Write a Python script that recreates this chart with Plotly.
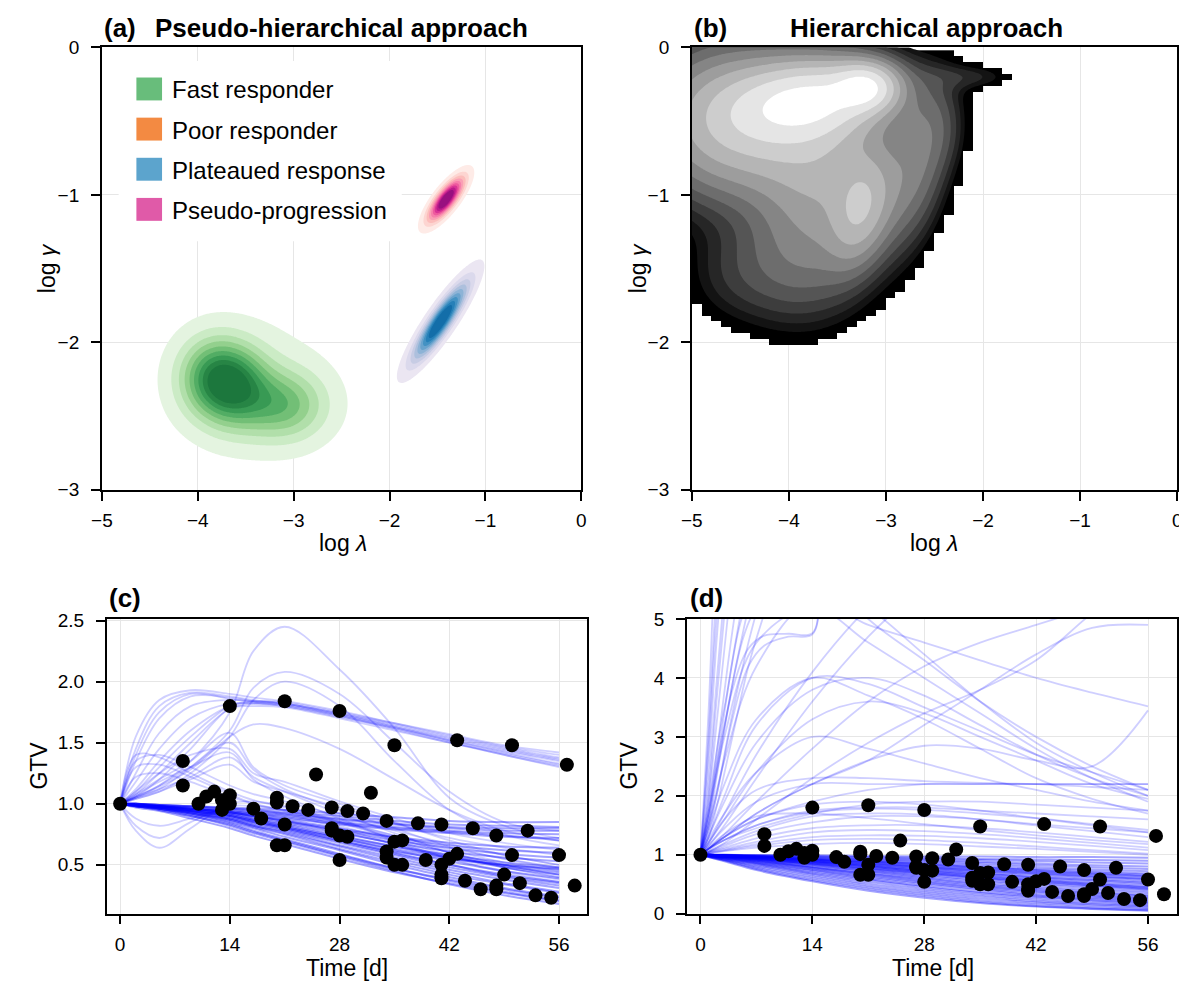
import numpy as np
import plotly.graph_objects as go

W, H = 1187, 995
OFF = 8  # default page margin of the html body

# ------------------------------------------------------------------ data
GROUP_NAMES = ["Fast responder", "Poor responder", "Plateaued response", "Pseudo-progression"]
GROUP_PATCH_COLORS = ["#68bd7b", "#f38a42", "#5ca4cd", "#e05aa8"]
# kernel = (log λ centre, log γ centre, sd λ, sd γ, correlation, weight)
FAST_KERNELS = [(-3.85, -2.24, 0.24, 0.18, 0.0, 0.80),
                (-3.60, -2.30, 0.24, 0.18, 0.0, 0.80),
                (-3.10, -2.43, 0.30, 0.16, 0.0, 0.65),
                (-3.45, -2.30, 0.50, 0.28, 0.0, 0.20)]
PLATEAU_KERNELS = [(-1.47, -1.86, 0.18, 0.165, 0.89, 1.0),
                   (-1.45, -1.84, 0.25, 0.23, 0.90, 0.07)]
PSEUDO_KERNELS = [(-1.41, -1.03, 0.12, 0.095, 0.78, 1.0)]
FAST_BANDS = ["#e4f4e0", "#cbebc5", "#b1dfaa", "#93d08d", "#72bf76", "#52ad64", "#389a54", "#278545", "#1c773d"]
PLATEAU_BANDS = ["#ebe6f2", "#dbd9ec", "#c7cce4", "#adc0dd", "#8db3d6", "#69a3cd", "#4392c3", "#2680b8", "#136ea9"]
PSEUDO_BANDS = ["#feebe7", "#fdd5d1", "#fcbdbb", "#fa9fb5", "#f67fab", "#ee5a9e", "#d93495", "#bb1b8a", "#98107f"]

HIER_KERNELS = [(-3.72, -0.35, 0.50, 0.17, 0.2, 0.80),
                (-3.20, -0.27, 0.20, 0.10, 0.0, 0.70),
                (-4.20, -0.50, 0.60, 0.30, 0.0, 0.45),
                (-4.80, -0.50, 0.50, 0.35, 0.0, 0.25),
                (-3.60, -0.90, 0.45, 0.35, 0.0, 0.30),
                (-3.25, -1.10, 0.20, 0.24, 0.3, 0.36),
                (-3.90, -1.45, 0.45, 0.30, 0.0, 0.15),
                (-4.60, -1.55, 0.35, 0.22, 0.0, 0.05),
                (-2.70, -0.80, 0.25, 0.35, 0.4, 0.20),
                (-2.45, -0.55, 0.18, 0.18, 0.0, 0.05),
                (-2.10, -0.20, 0.30, 0.06, 0.0, 0.06)]
HIER_BANDS = ["#131313", "#262626", "#3d3d3d", "#555555", "#6d6d6d", "#858585",
              "#9d9d9d", "#b5b5b5", "#cdcdcd", "#e5e5e5", "#ffffff"]

OBS_DAY = [0, 8, 8, 10, 11, 12, 13, 13, 14, 14, 14, 17, 18, 20, 20, 20, 21, 21, 21, 22, 24, 25,
           27, 27, 27, 28, 28, 28, 29, 29, 31, 32, 34, 34, 34, 35, 35, 35, 36, 36, 38, 39,
           41, 41, 41, 41, 42, 43, 43, 44, 45, 46, 48, 48, 48, 49, 50, 50, 51, 52, 53, 55, 56, 57, 58]
OBS_GTV = [1.00, 1.35, 1.15, 1.00, 1.06, 1.10, 0.95, 1.03, 1.80, 1.07, 1.00, 0.96, 0.88, 1.05, 1.01, 0.66,
           0.83, 0.66, 1.84, 0.98, 0.95, 1.24, 0.97, 0.80, 0.78, 1.76, 0.74, 0.54, 0.94, 0.73, 0.92, 1.09,
           0.86, 0.61, 0.56, 1.48, 0.69, 0.50, 0.70, 0.50, 0.84, 0.54, 0.83, 0.50, 0.42, 0.39, 0.55, 1.52,
           0.59, 0.37, 0.80, 0.30, 0.74, 0.33, 0.30, 0.42, 1.48, 0.58, 0.35, 0.78, 0.25, 0.23, 0.58, 1.32, 0.33]

C_DAYS = [0, 2, 5, 9, 14, 17, 21, 28, 35, 42, 49, 56]
C_UPPER = [[1, 1.55, 1.85, 1.93, 1.90, 1.87, 1.84, 1.76, 1.66, 1.56, 1.47, 1.40],
           [1, 1.45, 1.80, 1.91, 1.88, 1.85, 1.82, 1.74, 1.64, 1.54, 1.45, 1.37],
           [1, 1.35, 1.70, 1.88, 1.87, 1.84, 1.81, 1.73, 1.63, 1.53, 1.44, 1.36],
           [1, 1.25, 1.58, 1.80, 1.85, 1.84, 1.82, 1.74, 1.65, 1.55, 1.46, 1.38],
           [1, 1.12, 1.35, 1.60, 1.80, 1.83, 1.82, 1.73, 1.63, 1.52, 1.42, 1.33],
           [1, 1.08, 1.25, 1.50, 1.78, 1.82, 1.81, 1.72, 1.62, 1.51, 1.40, 1.31],
           [1, 1.10, 1.30, 1.55, 1.80, 1.84, 1.83, 1.75, 1.66, 1.57, 1.48, 1.42],
           [1, 1.18, 1.45, 1.70, 1.82, 1.82, 1.80, 1.71, 1.62, 1.52, 1.43, 1.35],
           [1, 1.06, 1.20, 1.45, 1.78, 1.80, 1.79, 1.70, 1.60, 1.50, 1.41, 1.32],
           [1, 1.40, 1.75, 1.90, 1.86, 1.83, 1.80, 1.72, 1.61, 1.50, 1.40, 1.30]]
C_PEAKED = [[1, 1.05, 1.15, 1.35, 1.75, 2.25, 2.45, 2.10, 1.62, 1.05, 0.82, 0.72],
            [1, 1.05, 1.12, 1.30, 1.60, 1.95, 2.08, 1.90, 1.50, 1.10, 0.85, 0.78],
            [1, 1.04, 1.10, 1.25, 1.55, 1.85, 2.00, 1.80, 1.35, 0.95, 0.75, 0.66],
            [1, 1.06, 1.14, 1.28, 1.55, 1.65, 1.62, 1.45, 1.20, 0.95, 0.78, 0.70]]
C_SPIKE = [[1, 1.08, 1.20, 1.35, 1.58, 1.30, 1.15, 1.00, 0.85, 0.70, 0.58, 0.50],
           [1, 1.06, 1.15, 1.30, 1.50, 1.28, 1.12, 0.95, 0.80, 0.65, 0.55, 0.47],
           [1, 1.10, 1.25, 1.40, 1.45, 1.25, 1.18, 1.02, 0.88, 0.76, 0.68, 0.62],
           [1, 1.05, 1.12, 1.22, 1.38, 1.22, 1.10, 0.92, 0.76, 0.60, 0.48, 0.40],
           [1, 1.07, 1.18, 1.30, 1.42, 1.20, 1.06, 0.88, 0.70, 0.55, 0.44, 0.36],
           [1, 1.04, 1.10, 1.20, 1.32, 1.18, 1.10, 0.97, 0.84, 0.72, 0.64, 0.58]]
C_BUMP = [[1, 1.40, 1.38, 1.25, 1.10, 1.03, 0.97, 0.85, 0.72, 0.60, 0.50, 0.42],
          [1, 1.35, 1.40, 1.30, 1.15, 1.08, 1.02, 0.90, 0.78, 0.67, 0.58, 0.50],
          [1, 1.30, 1.32, 1.22, 1.08, 1.00, 0.94, 0.82, 0.70, 0.58, 0.48, 0.40],
          [1, 1.22, 1.25, 1.18, 1.06, 1.00, 0.95, 0.85, 0.74, 0.64, 0.55, 0.48]]
C_DIP = [[1, 0.78, 0.64, 0.80, 1.00, 1.02, 0.98, 0.86, 0.74, 0.62, 0.52, 0.45],
         [1, 0.82, 0.72, 0.85, 0.98, 0.98, 0.95, 0.84, 0.72, 0.60, 0.50, 0.42],
         [1, 0.88, 0.82, 0.88, 0.96, 0.95, 0.92, 0.80, 0.67, 0.55, 0.45, 0.38]]
C_MAIN = [[1, 1.00, 0.99, 0.98, 0.97, 0.96, 0.95, 0.92, 0.89, 0.86, 0.85, 0.85],
          [1, 1.00, 0.99, 0.98, 0.96, 0.95, 0.93, 0.90, 0.86, 0.83, 0.82, 0.81],
          [1, 1.00, 0.99, 0.97, 0.95, 0.93, 0.91, 0.87, 0.83, 0.80, 0.78, 0.78],
          [1, 1.00, 0.98, 0.97, 0.94, 0.92, 0.90, 0.85, 0.81, 0.78, 0.76, 0.75],
          [1, 0.99, 0.98, 0.96, 0.93, 0.91, 0.88, 0.83, 0.79, 0.76, 0.73, 0.72],
          [1, 1.00, 0.99, 0.98, 0.96, 0.94, 0.92, 0.88, 0.84, 0.81, 0.80, 0.80],
          [1, 0.99, 0.98, 0.96, 0.94, 0.92, 0.89, 0.84, 0.80, 0.77, 0.74, 0.70],
          [1, 0.99, 0.98, 0.96, 0.93, 0.90, 0.86, 0.79, 0.72, 0.66, 0.62, 0.60],
          [1, 0.99, 0.98, 0.95, 0.92, 0.88, 0.84, 0.76, 0.68, 0.61, 0.56, 0.53],
          [1, 0.99, 0.97, 0.95, 0.91, 0.87, 0.82, 0.73, 0.65, 0.58, 0.52, 0.48],
          [1, 0.99, 0.97, 0.94, 0.90, 0.86, 0.81, 0.72, 0.63, 0.56, 0.50, 0.46],
          [1, 0.99, 0.98, 0.95, 0.92, 0.89, 0.85, 0.78, 0.70, 0.64, 0.59, 0.56],
          [1, 1.00, 0.98, 0.96, 0.93, 0.90, 0.87, 0.80, 0.73, 0.68, 0.65, 0.64],
          [1, 0.99, 0.97, 0.94, 0.90, 0.85, 0.80, 0.70, 0.61, 0.55, 0.50, 0.47],
          [1, 0.99, 0.97, 0.93, 0.87, 0.82, 0.76, 0.65, 0.54, 0.44, 0.35, 0.28],
          [1, 0.99, 0.96, 0.92, 0.85, 0.80, 0.73, 0.62, 0.50, 0.40, 0.31, 0.24],
          [1, 0.98, 0.96, 0.91, 0.84, 0.78, 0.71, 0.59, 0.47, 0.37, 0.28, 0.21],
          [1, 0.98, 0.95, 0.90, 0.82, 0.76, 0.69, 0.57, 0.45, 0.34, 0.25, 0.18],
          [1, 0.99, 0.97, 0.93, 0.88, 0.83, 0.78, 0.68, 0.58, 0.48, 0.40, 0.33],
          [1, 0.99, 0.97, 0.94, 0.89, 0.85, 0.80, 0.70, 0.60, 0.50, 0.42, 0.36],
          [1, 0.98, 0.96, 0.92, 0.86, 0.81, 0.75, 0.63, 0.52, 0.42, 0.34, 0.27],
          [1, 0.98, 0.95, 0.90, 0.83, 0.77, 0.70, 0.58, 0.47, 0.38, 0.30, 0.23],
          [1, 0.97, 0.94, 0.88, 0.80, 0.74, 0.67, 0.55, 0.44, 0.35, 0.27, 0.20],
          [1, 0.99, 0.97, 0.94, 0.90, 0.86, 0.81, 0.72, 0.62, 0.53, 0.45, 0.39],
          [1, 0.98, 0.96, 0.92, 0.87, 0.82, 0.77, 0.66, 0.56, 0.46, 0.38, 0.31],
          [1, 0.99, 0.98, 0.95, 0.91, 0.87, 0.83, 0.74, 0.65, 0.56, 0.48, 0.42],
          [1, 0.98, 0.96, 0.93, 0.88, 0.84, 0.79, 0.69, 0.59, 0.50, 0.41, 0.35],
          [1, 0.99, 0.98, 0.96, 0.93, 0.90, 0.86, 0.77, 0.67, 0.57, 0.49, 0.44]]

D_DAYS = [0, 1, 3, 7, 14, 21, 28, 35, 42, 49, 56]
D_MAIN = [[1, 1.00, 1.00, 0.99, 0.99, 0.98, 0.97, 0.97, 0.96, 0.96, 0.95],
          [1, 1.00, 1.00, 0.99, 0.98, 0.96, 0.95, 0.93, 0.92, 0.91, 0.90],
          [1, 1.00, 0.99, 0.99, 0.97, 0.95, 0.93, 0.91, 0.89, 0.87, 0.85],
          [1, 1.00, 0.99, 0.98, 0.96, 0.93, 0.91, 0.88, 0.85, 0.82, 0.80],
          [1, 1.00, 0.99, 0.98, 0.95, 0.92, 0.89, 0.86, 0.82, 0.79, 0.76],
          [1, 1.00, 0.99, 0.97, 0.94, 0.91, 0.87, 0.83, 0.79, 0.75, 0.72],
          [1, 1.00, 0.99, 0.97, 0.93, 0.89, 0.85, 0.80, 0.76, 0.72, 0.68],
          [1, 1.00, 0.99, 0.97, 0.92, 0.88, 0.83, 0.78, 0.73, 0.68, 0.64],
          [1, 1.00, 0.99, 0.96, 0.91, 0.86, 0.80, 0.75, 0.70, 0.65, 0.60],
          [1, 1.00, 0.98, 0.96, 0.90, 0.84, 0.78, 0.72, 0.67, 0.62, 0.57],
          [1, 1.00, 0.98, 0.95, 0.89, 0.83, 0.77, 0.70, 0.64, 0.59, 0.54],
          [1, 1.00, 0.98, 0.95, 0.88, 0.81, 0.74, 0.67, 0.61, 0.55, 0.50],
          [1, 0.99, 0.98, 0.94, 0.87, 0.80, 0.72, 0.65, 0.58, 0.52, 0.47],
          [1, 0.99, 0.98, 0.94, 0.86, 0.78, 0.70, 0.62, 0.55, 0.49, 0.44],
          [1, 0.99, 0.97, 0.93, 0.85, 0.76, 0.68, 0.60, 0.52, 0.46, 0.41],
          [1, 0.99, 0.97, 0.93, 0.84, 0.75, 0.66, 0.57, 0.50, 0.43, 0.38],
          [1, 0.99, 0.97, 0.92, 0.83, 0.73, 0.64, 0.55, 0.47, 0.40, 0.35],
          [1, 0.99, 0.97, 0.92, 0.82, 0.72, 0.62, 0.52, 0.44, 0.37, 0.32],
          [1, 0.99, 0.96, 0.91, 0.80, 0.70, 0.60, 0.50, 0.42, 0.35, 0.30],
          [1, 0.99, 0.96, 0.90, 0.79, 0.68, 0.58, 0.48, 0.40, 0.33, 0.28],
          [1, 0.99, 0.96, 0.90, 0.78, 0.67, 0.56, 0.46, 0.38, 0.31, 0.26],
          [1, 0.98, 0.95, 0.89, 0.77, 0.65, 0.54, 0.44, 0.36, 0.29, 0.24],
          [1, 0.98, 0.95, 0.88, 0.75, 0.63, 0.52, 0.42, 0.33, 0.27, 0.22],
          [1, 0.98, 0.95, 0.87, 0.74, 0.61, 0.50, 0.40, 0.31, 0.25, 0.20],
          [1, 0.98, 0.94, 0.86, 0.72, 0.59, 0.47, 0.37, 0.29, 0.23, 0.18],
          [1, 0.98, 0.94, 0.85, 0.70, 0.57, 0.45, 0.35, 0.27, 0.21, 0.16],
          [1, 0.98, 0.93, 0.84, 0.68, 0.54, 0.42, 0.32, 0.24, 0.18, 0.14],
          [1, 0.97, 0.92, 0.82, 0.66, 0.51, 0.39, 0.29, 0.21, 0.16, 0.12],
          [1, 0.97, 0.92, 0.80, 0.63, 0.48, 0.36, 0.26, 0.19, 0.14, 0.10],
          [1, 0.97, 0.91, 0.78, 0.60, 0.45, 0.33, 0.23, 0.16, 0.11, 0.08],
          [1, 0.96, 0.90, 0.76, 0.57, 0.42, 0.30, 0.20, 0.13, 0.09, 0.06],
          [1, 0.96, 0.89, 0.74, 0.55, 0.39, 0.27, 0.18, 0.12, 0.08, 0.05],
          [1, 1.00, 0.99, 0.97, 0.93, 0.89, 0.84, 0.79, 0.74, 0.70, 0.66],
          [1, 0.99, 0.98, 0.95, 0.89, 0.82, 0.75, 0.68, 0.62, 0.57, 0.52],
          [1, 1.00, 0.99, 0.96, 0.91, 0.85, 0.79, 0.73, 0.68, 0.63, 0.59],
          [1, 1.00, 0.99, 0.97, 0.92, 0.87, 0.81, 0.76, 0.71, 0.67, 0.63],
          [1, 0.99, 0.98, 0.95, 0.88, 0.80, 0.72, 0.64, 0.57, 0.51, 0.45],
          [1, 0.99, 0.97, 0.93, 0.85, 0.77, 0.69, 0.61, 0.54, 0.48, 0.42]]
D_MODERATE = [[1, 1.05, 1.15, 1.35, 1.55, 1.65, 1.65, 1.60, 1.52, 1.45, 1.38],
              [1, 1.05, 1.12, 1.28, 1.45, 1.50, 1.50, 1.45, 1.38, 1.30, 1.22],
              [1, 1.04, 1.10, 1.22, 1.38, 1.42, 1.40, 1.35, 1.28, 1.20, 1.12],
              [1, 1.06, 1.18, 1.40, 1.65, 1.70, 1.68, 1.60, 1.50, 1.40, 1.30],
              [1, 1.03, 1.08, 1.18, 1.30, 1.33, 1.32, 1.28, 1.22, 1.15, 1.08],
              [1, 1.08, 1.25, 1.50, 1.72, 1.78, 1.76, 1.70, 1.62, 1.52, 1.42],
              [1, 1.03, 1.07, 1.15, 1.25, 1.27, 1.25, 1.20, 1.14, 1.08, 1.02],
              [1, 1.10, 1.30, 1.60, 1.85, 1.90, 1.85, 1.75, 1.62, 1.50, 1.38],
              [1, 1.02, 1.06, 1.12, 1.18, 1.20, 1.18, 1.14, 1.10, 1.05, 1.00],
              [1, 1.12, 1.35, 1.65, 1.70, 1.62, 1.52, 1.42, 1.33, 1.25, 1.18]]
D_HIGH = [[1, 1.10, 1.30, 1.70, 2.20, 2.60, 3.20, 3.80, 4.40, 4.85, 4.90],
          [1, 1.50, 2.60, 4.20, 5.30, 4.90, 4.60, 4.30, 4.00, 3.75, 3.52],
          [1, 1.30, 2.00, 3.20, 4.00, 3.90, 3.50, 3.10, 2.70, 2.40, 2.10],
          [1, 1.20, 1.60, 2.10, 2.30, 2.30, 2.25, 2.22, 2.20, 2.20, 2.20],
          [1, 1.05, 1.20, 1.60, 2.30, 2.90, 3.40, 3.80, 4.30, 5.10, 5.80],
          [1, 1.25, 1.70, 2.40, 3.00, 2.80, 2.55, 2.30, 2.10, 1.90, 1.75],
          [1, 1.10, 1.30, 1.70, 2.20, 2.60, 2.85, 2.80, 2.60, 2.50, 3.45],
          [1, 1.15, 1.45, 1.90, 2.20, 2.20, 2.20, 2.20, 2.20, 2.15, 2.10],
          [1, 1.40, 2.20, 3.30, 4.00, 3.70, 3.30, 2.80, 2.30, 1.95, 1.70],
          [1, 1.60, 3.00, 4.60, 5.20, 4.60, 4.00, 3.40, 2.80, 2.30, 1.90],
          [1, 1.15, 1.50, 2.30, 3.60, 4.70, 5.60, 6.50, 7.00, 7.50, 8.00],
          [1, 1.20, 1.70, 2.70, 4.10, 5.20, 6.00, 6.80, 7.40, 7.80, 8.20],
          [1, 1.10, 1.35, 1.90, 2.80, 3.60, 4.20, 4.60, 4.90, 5.20, 5.50],
          [1, 1.80, 3.50, 5.50, 5.80, 5.20, 4.40, 3.60, 2.90, 2.40, 2.00],
          [1, 1.70, 3.20, 5.20, 6.00, 5.00, 4.30, 3.60, 3.00, 2.50, 2.10],
          [1, 1.10, 1.30, 1.60, 1.90, 2.10, 2.20, 2.20, 2.20, 2.20, 2.20],
          [1, 1.10, 1.25, 1.45, 1.70, 1.85, 1.90, 1.90, 1.85, 1.80, 1.75],
          [1, 1.10, 1.25, 1.50, 1.75, 1.80, 1.80, 1.75, 1.70, 1.65, 1.60],
          [1, 1.30, 1.90, 2.90, 3.80, 4.00, 3.70, 3.20, 2.70, 2.30, 2.00],
          [1, 1.20, 1.60, 2.40, 3.30, 3.60, 3.40, 3.00, 2.60, 2.20, 1.95]]
D_STEEP_DAYS = [0, 1, 2, 4, 6, 8]
D_STEEP = [[1, 3.0, 5.5, 9.0, 12.0, 15.0],
           [1, 2.5, 4.6, 8.0, 11.0, 14.0],
           [1, 2.2, 3.9, 7.0, 10.0, 13.0],
           [1, 1.9, 3.2, 5.8, 8.5, 11.0],
           [1, 1.7, 2.7, 4.8, 6.5, 8.0],
           [1, 1.5, 2.3, 3.9, 5.2, 6.4],
           [1, 1.4, 2.0, 3.4, 4.6, 5.6],
           [1, 1.3, 1.8, 3.0, 4.2, 5.1],
           [1, 2.8, 5.0, 8.0, 11.0, 14.0],
           [1, 2.0, 3.6, 6.5, 9.0, 12.0],
           [1, 3.4, 6.5, 10.0, 13.0, 16.0],
           [1, 1.6, 2.5, 4.3, 5.8, 7.2]]
D_PLATEAU_DAYS = [0, 2, 4, 6, 8, 11, 14, 15, 16]
D_PLATEAU = [[1, 2.4, 3.8, 4.5, 4.72, 4.75, 4.76, 5.6, 7.0],
             [1, 2.0, 3.3, 4.2, 4.55, 4.70, 4.74, 5.5, 7.0]]

# ------------------------------------------------------------------ helpers
def px(x):
    return (x - OFF) / W


def py(y):
    return 1 - (y - OFF) / H


def density(xs, ys, kernels):
    X, Y = np.meshgrid(xs, ys)
    Z = np.zeros_like(X)
    for mx, my, sx, sy, rho, w in kernels:
        dx = (X - mx) / sx
        dy = (Y - my) / sy
        q = (dx * dx - 2 * rho * dx * dy + dy * dy) / (1 - rho * rho)
        Z += w * np.exp(-0.5 * q)
    return Z / Z.max()


def band_scale(colors):
    n = len(colors)
    scale = [[0.0, "rgba(255,255,255,0)"]]
    for j, c in enumerate(colors, start=1):
        scale.append([j / n, c])
    return scale


def filled_contour(xs, ys, z, colors, lo, step, xa, ya):
    n = len(colors)
    return go.Contour(
        x=np.round(xs, 4), y=np.round(ys, 4), z=np.round(z, 5), xaxis=xa, yaxis=ya,
        autocontour=False,
        contours=dict(start=lo, end=lo + (n - 1) * step, size=step, coloring="fill", showlines=False),
        colorscale=band_scale(colors), showscale=False, line=dict(width=0),
        hoverinfo="skip", showlegend=False)


fig = go.Figure()

# ------------------------------------------------------------------ panel (a)
A_LO, A_STEP = 0.05, 0.09375
for kern, bands, gx, gy in (
        (FAST_KERNELS, FAST_BANDS, np.arange(-4.9, -1.9, 0.01), np.arange(-3.0, -1.4, 0.01)),
        (PLATEAU_KERNELS, PLATEAU_BANDS, np.arange(-2.3, -0.7, 0.01), np.arange(-2.6, -1.1, 0.01)),
        (PSEUDO_KERNELS, PSEUDO_BANDS, np.arange(-1.9, -0.9, 0.005), np.arange(-1.5, -0.6, 0.005))):
    fig.add_trace(filled_contour(gx, gy, density(gx, gy, kern), bands, A_LO, A_STEP, "x", "y"))

# ------------------------------------------------------------------ panel (b)
bx = np.arange(-5.0, -1.39, 0.02)
by = np.arange(-2.3, 0.001, 0.01)
cx = np.arange(-4.95, -1.4, 0.1)
cy = np.arange(-2.28, 0.0, 0.04)
cz = density(cx, cy, HIER_KERNELS)
fig.add_trace(go.Heatmap(x=np.round(cx, 3), y=np.round(cy, 3), z=np.where(cz > 0.02, 1.0, np.nan),
                         xaxis="x2", yaxis="y2", colorscale=[[0, "black"], [1, "black"]],
                         showscale=False, zsmooth=False, hoverinfo="skip"))
bz = np.log(np.maximum(density(bx, by, HIER_KERNELS), 1e-6))
B_LO = np.log(0.035)
B_STEP = (np.log(0.78) - B_LO) / (len(HIER_BANDS) - 1)
fig.add_trace(filled_contour(bx, by, bz, HIER_BANDS, B_LO, B_STEP, "x2", "y2"))

# ------------------------------------------------------------------ panels (c) and (d)
LINE_MAIN = dict(color="rgba(0,0,255,0.36)", width=2.0, shape="spline", smoothing=1.0)
LINE_OUT = dict(color="rgba(0,0,255,0.19)", width=1.8, shape="spline", smoothing=1.0)


def add_lines(days, rows, xa, ya, style):
    for row in rows:
        fig.add_trace(go.Scatter(x=days, y=row, mode="lines", line=style, xaxis=xa, yaxis=ya,
                                 hoverinfo="skip", showlegend=False))


add_lines(C_DAYS, C_MAIN, "x3", "y3", LINE_MAIN)
for rows in (C_UPPER, C_PEAKED, C_SPIKE, C_BUMP, C_DIP):
    add_lines(C_DAYS, rows, "x3", "y3", LINE_OUT)
add_lines(D_DAYS, D_MAIN, "x4", "y4", LINE_MAIN)
add_lines(D_DAYS, D_MODERATE, "x4", "y4", LINE_OUT)
add_lines(D_DAYS, D_HIGH, "x4", "y4", LINE_OUT)
add_lines(D_STEEP_DAYS, D_STEEP, "x4", "y4", LINE_OUT)
add_lines(D_PLATEAU_DAYS, D_PLATEAU, "x4", "y4", LINE_OUT)

for xa, ya in (("x3", "y3"), ("x4", "y4")):
    fig.add_trace(go.Scatter(x=OBS_DAY, y=OBS_GTV, mode="markers", xaxis=xa, yaxis=ya,
                             marker=dict(color="black", size=14), hoverinfo="skip",
                             showlegend=False, cliponaxis=False))

# ------------------------------------------------------------------ axes
FONT = "Liberation Sans, Arial, sans-serif"


def axis(domain, rng, tickvals, ticktext=None, anchor=None, standoff=4):
    d = dict(domain=domain, range=rng, tickvals=tickvals, showline=True, linecolor="black",
             linewidth=1.6, mirror=True, ticks="outside", ticklen=9, tickwidth=1.6,
             tickcolor="black", showgrid=True, gridcolor="#e6e6e6", gridwidth=1,
             zeroline=False, tickfont=dict(size=19, color="black", family=FONT), anchor=anchor,
             ticklabelstandoff=standoff)
    if ticktext is not None:
        d["ticktext"] = ticktext
    return d


LAM_TICKS = [-5, -4, -3, -2, -1, 0]
GAM_TICKS = [-3, -2, -1, 0]
DAY_TICKS = [0, 14, 28, 42, 56]
C_GTV_TICKS = [0.5, 1.0, 1.5, 2.0, 2.5]
D_GTV_TICKS = [0, 1, 2, 3, 4, 5]

top_dom = [py(490), py(38)]
bot_dom = [py(923), py(622)]
fig.update_layout(
    xaxis=axis([px(92), px(578)], [-5, 0], LAM_TICKS, anchor="y"),
    yaxis=axis(top_dom, [-3, 0], GAM_TICKS, anchor="x", standoff=8),
    xaxis2=axis([px(690), px(1182)], [-5, 0], LAM_TICKS, anchor="y2"),
    yaxis2=axis(top_dom, [-3, 0], GAM_TICKS, anchor="x2", standoff=8),
    xaxis3=axis([px(97), px(584)], [-1.7, 59.6], DAY_TICKS, anchor="y3"),
    yaxis3=axis(bot_dom, [0.1, 2.513], C_GTV_TICKS, ["0.5", "1.0", "1.5", "2.0", "2.5"], anchor="x3", standoff=8),
    xaxis4=axis([px(685), px(1182)], [-1.7, 59.65], DAY_TICKS, anchor="y4"),
    yaxis4=axis(bot_dom, [0, 5], D_GTV_TICKS, anchor="x4", standoff=8),
)

# ------------------------------------------------------------------ texts, legend
ann = []
shapes = []


def text(x, y, s, size, bold=False, xanchor="center", angle=0):
    ann.append(dict(x=px(x), y=py(y), xref="paper", yref="paper", text=("<b>%s</b>" % s) if bold else s,
                    showarrow=False, xanchor=xanchor, yanchor="middle", textangle=angle,
                    font=dict(size=size, color="black", family=FONT)))


text(92, 18, "(a)", 26, True, "left")
text(335, 18, "Pseudo-hierarchical approach", 26, True)
text(690, 18, "(b)", 26, True, "left")
text(928, 18, "Hierarchical approach", 26, True)
text(97, 601, "(c)", 26, True, "left")
text(686, 601, "(d)", 26, True, "left")

text(336, 544, "log <i>λ</i>", 23)
text(936, 544, "log <i>λ</i>", 23)
text(36, 264, "log <i>γ</i>", 23, angle=-90)
text(635, 264, "log <i>γ</i>", 23, angle=-90)
text(340, 978, "Time [d]", 23)
text(934, 978, "Time [d]", 23)
text(28, 772, "GTV", 23, angle=-90)
text(626, 772, "GTV", 23, angle=-90)

shapes.append(dict(type="rect", xref="paper", yref="paper", x0=px(109), x1=px(396), y0=py(236), y1=py(52),
                   fillcolor="white", line=dict(width=0), layer="above"))
for i, (name, col) in enumerate(zip(GROUP_NAMES, GROUP_PATCH_COLORS)):
    yc = 80.5 + 41 * i
    shapes.append(dict(type="rect", xref="paper", yref="paper", x0=px(127), x1=px(153),
                       y0=py(yc + 11.7), y1=py(yc - 11.7), fillcolor=col, line=dict(width=0), layer="above"))
    text(161, yc + 1, name, 24, xanchor="left")

fig.update_layout(width=W, height=H, margin=dict(l=0, r=0, t=0, b=0), showlegend=False,
                  paper_bgcolor="white", plot_bgcolor="white", annotations=ann, shapes=shapes,
                  font=dict(family=FONT, color="black"))

fig.write_html("out.html")
